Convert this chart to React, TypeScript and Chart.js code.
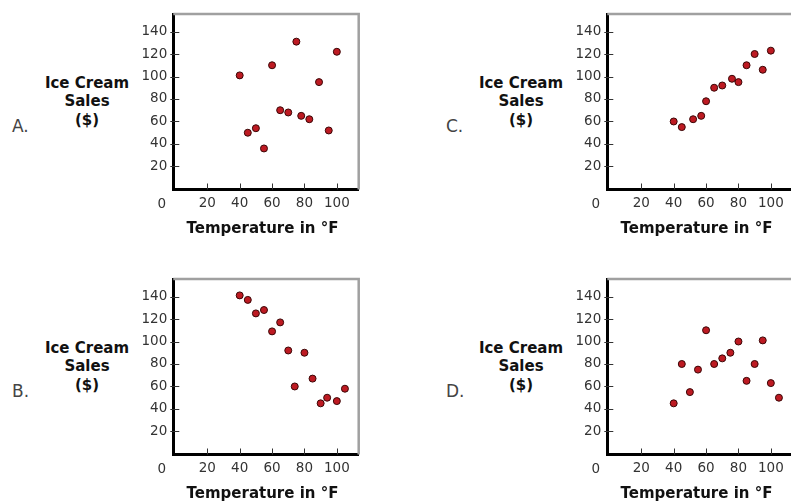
import React, { useEffect, useRef } from 'react';
import { Chart, registerables } from 'chart.js';

Chart.register(...registerables);

// ---- data ----
const tempA = [40, 45, 50, 55, 60, 65, 70, 75, 78, 83, 89, 95, 100];
const salesA = [101, 50, 54, 36, 110, 70, 68, 131, 65, 62, 95, 52, 122];

const tempB = [40, 45, 50, 55, 60, 65, 70, 74, 80, 85, 90, 94, 100, 105];
const salesB = [141, 137, 125, 128, 109, 117, 92, 60, 90, 67, 45, 50, 47, 58];

const tempC = [40, 45, 52, 57, 60, 65, 70, 76, 80, 85, 90, 95, 100];
const salesC = [60, 55, 62, 65, 78, 90, 92, 98, 95, 110, 120, 106, 123];

const tempD = [40, 45, 50, 55, 60, 65, 70, 75, 80, 85, 90, 95, 100, 105];
const salesD = [45, 80, 55, 75, 110, 80, 85, 90, 100, 65, 80, 101, 63, 50];

const xTickValues = [20, 40, 60, 80, 100];
const yTickValues = [20, 40, 60, 80, 100, 120, 140];
const panelLetters = ['A.', 'B.', 'C.', 'D.'];
const yTitleLines = ['Ice Cream', 'Sales', '($)'];
const xTitle = 'Temperature in °F';
const originLabel = '0';

const X_MIN = -1;
const X_MAX = 113.5;
const Y_MIN = -0.5;
const Y_MAX = 155.5;

const FONT = '"DejaVu Sans", Verdana, sans-serif';

const framePlugin = {
  id: 'frameTicks',
  afterDraw(chart: any) {
    const { ctx, chartArea: a, scales } = chart;
    ctx.save();
    ctx.strokeStyle = '#a0a0a0';
    ctx.lineWidth = 2.5;
    ctx.beginPath();
    ctx.moveTo(a.left, a.top);
    ctx.lineTo(a.right, a.top);
    ctx.lineTo(a.right, a.bottom);
    ctx.stroke();

    ctx.strokeStyle = '#333';
    ctx.lineWidth = 1;
    ctx.beginPath();
    for (const t of scales.y.ticks) {
      const py = Math.round(scales.y.getPixelForValue(t.value)) + 0.5;
      ctx.moveTo(a.left - 3, py);
      ctx.lineTo(a.left + 6, py);
    }
    for (const t of scales.x.ticks) {
      const px = Math.round(scales.x.getPixelForValue(t.value)) + 0.5;
      ctx.moveTo(px, a.bottom - 6);
      ctx.lineTo(px, a.bottom);
    }
    ctx.stroke();
    ctx.restore();
  },
};

type PanelProps = { letter: string; temps: number[]; sales: number[]; dx: number; dy: number };

function Panel({ letter, temps, sales, dx, dy }: PanelProps) {
  const ref = useRef<HTMLCanvasElement | null>(null);

  useEffect(() => {
    if (!ref.current) return;
    const tickFont = { family: FONT, size: 13.5 };
    const chart = new Chart(ref.current, {
      type: 'scatter',
      data: {
        datasets: [
          {
            data: temps.map((t, i) => ({ x: t, y: sales[i] })),
            pointRadius: 3.5,
            pointHoverRadius: 3.5,
            pointBackgroundColor: '#bd1a22',
            pointBorderColor: '#3a0606',
            pointBorderWidth: 1,
          },
        ],
      },
      options: {
        responsive: false,
        animation: false,
        events: [],
        layout: { padding: { left: 0, top: 8, right: 31.3, bottom: 0 } },
        plugins: { legend: { display: false }, tooltip: { enabled: false } },
        scales: {
          x: {
            type: 'linear',
            min: X_MIN,
            max: X_MAX,
            afterBuildTicks: (s: any) => {
              s.ticks = xTickValues.map((v) => ({ value: v }));
            },
            afterFit: (s: any) => {
              s.height = 25.5;
            },
            grid: { display: true, drawOnChartArea: false, drawTicks: false },
            border: { display: true, color: '#000', width: 3 },
            ticks: { font: tickFont, color: '#333', padding: 6, autoSkip: false, maxRotation: 0 },
          },
          y: {
            type: 'linear',
            min: Y_MIN,
            max: Y_MAX,
            afterBuildTicks: (s: any) => {
              s.ticks = yTickValues.map((v) => ({ value: v }));
            },
            afterFit: (s: any) => {
              s.width = 33.3;
            },
            grid: { display: true, drawOnChartArea: false, drawTicks: false },
            border: { display: true, color: '#000', width: 3 },
            ticks: { font: tickFont, color: '#333', padding: 6, autoSkip: false },
          },
        },
      },
      plugins: [framePlugin],
    } as any);
    return () => chart.destroy();
  }, [temps, sales]);

  return (
    <>
      <div
        style={{
          position: 'absolute',
          left: 12 + dx,
          top: 116 + dy,
          fontFamily: FONT,
          fontSize: 17,
          lineHeight: '20px',
          color: '#444',
        }}
      >
        {letter}
      </div>
      <div
        style={{
          position: 'absolute',
          left: 27 + dx,
          top: 73.75 + dy,
          width: 120,
          textAlign: 'center',
          fontFamily: FONT,
          fontWeight: 'bold',
          fontSize: 15,
          lineHeight: '18.5px',
          color: '#111',
        }}
      >
        {yTitleLines.map((l) => (
          <div key={l}>{l}</div>
        ))}
      </div>
      <canvas
        ref={ref}
        width={250}
        height={215}
        style={{ position: 'absolute', left: 140 + dx, top: dy, width: 250, height: 215 }}
      />
      <div
        style={{
          position: 'absolute',
          left: 151.7 + dx,
          top: 194.3 + dy,
          width: 20,
          textAlign: 'center',
          fontFamily: FONT,
          fontSize: 13.5,
          lineHeight: '18px',
          color: '#333',
        }}
      >
        {originLabel}
      </div>
      <div
        style={{
          position: 'absolute',
          left: 162.5 + dx,
          top: 218.3 + dy,
          width: 200,
          textAlign: 'center',
          fontFamily: FONT,
          fontWeight: 'bold',
          fontSize: 15,
          lineHeight: '20px',
          color: '#111',
          whiteSpace: 'nowrap',
        }}
      >
        {xTitle}
      </div>
    </>
  );
}

export default function App() {
  return (
    <div
      style={{
        position: 'fixed',
        left: 0,
        top: 0,
        width: 791,
        height: 504,
        overflow: 'hidden',
        background: '#fff',
      }}
    >
      <Panel letter={panelLetters[0]} temps={tempA} sales={salesA} dx={0} dy={0} />
      <Panel letter={panelLetters[1]} temps={tempB} sales={salesB} dx={0} dy={265} />
      <Panel letter={panelLetters[2]} temps={tempC} sales={salesC} dx={434} dy={0} />
      <Panel letter={panelLetters[3]} temps={tempD} sales={salesD} dx={434} dy={265} />
    </div>
  );
}
